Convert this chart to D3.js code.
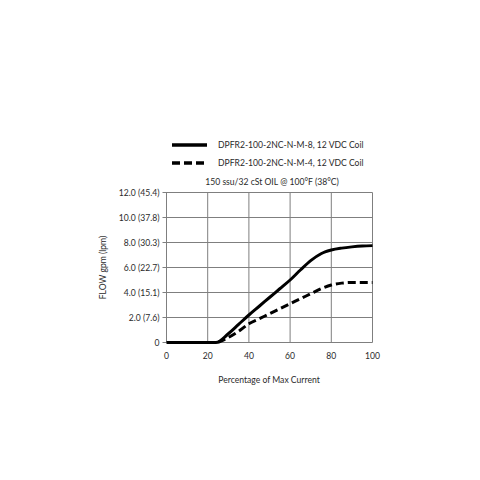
<!DOCTYPE html>
<html>
<head>
<meta charset="utf-8">
<script src="https://cdn.jsdelivr.net/npm/d3@7"></script>
<style>
  body { margin: 0; background: #fff; }
  text { font-family: Lato, "Open Sans", sans-serif; fill: #2a2a2a; }
</style>
</head>
<body>
<div id="chart"></div>
<script>
// percentage of max current vs flow (gpm)
let xTicks = [0, 20, 40, 60, 80, 100];
let yTicks = [0, 2, 4, 6, 8, 10, 12];
let yTickLabels = ["0", "2.0 (7.6)", "4.0 (15.1)", "6.0 (22.7)", "8.0 (30.3)", "10.0 (37.8)", "12.0 (45.4)"];

let seriesNames = ["DPFR2-100-2NC-N-M-8, 12 VDC Coil", "DPFR2-100-2NC-N-M-4, 12 VDC Coil"];
let m8Current = [0, 10, 20, 24, 30, 35, 40, 45, 50, 55, 60, 65, 70, 75, 77, 80, 85, 90, 95, 100];
let m8Flow    = [0, 0, 0, 0, 0.7, 1.45, 2.2, 2.9, 3.6, 4.3, 5.0, 5.8, 6.55, 7.1, 7.25, 7.4, 7.55, 7.65, 7.72, 7.75];
let m4Current = [25, 30, 35, 40, 45, 50, 55, 60, 65, 70, 75, 80, 85, 90, 95, 100];
let m4Flow    = [0, 0.4, 0.9, 1.5, 1.9, 2.3, 2.7, 3.1, 3.5, 3.9, 4.3, 4.6, 4.75, 4.8, 4.8, 4.8];

let subtitle = "150 ssu/32 cSt OIL @ 100°F (38°C)";
let xLabel = "Percentage of Max Current";
let yLabel = "FLOW gpm (lpm)";

let width = 480, height = 480;
let plotLeft = 166.5, plotRight = 372.5, plotTop = 192.5, plotBottom = 342.5;
let fontSize = 8.6;

let svg = d3.select("#chart").append("svg")
    .attr("width", width)
    .attr("height", height);

let x = d3.scaleLinear().domain([0, 100]).range([plotLeft, plotRight]);
let y = d3.scaleLinear().domain([0, 12]).range([plotBottom, plotTop]);

// grid
svg.append("g").selectAll("line").data(xTicks).join("line")
    .attr("x1", d => x(d)).attr("x2", d => x(d))
    .attr("y1", plotTop).attr("y2", plotBottom)
    .attr("stroke", "#7f7f7f").attr("stroke-width", 1);
svg.append("g").selectAll("line").data(yTicks).join("line")
    .attr("x1", plotLeft - 4).attr("x2", plotRight)
    .attr("y1", d => y(d)).attr("y2", d => y(d))
    .attr("stroke", "#7f7f7f").attr("stroke-width", 1);

// y axis labels
svg.append("g").selectAll("text").data(yTicks).join("text")
    .attr("x", plotLeft - 7)
    .attr("y", d => y(d) + 3)
    .attr("text-anchor", "end")
    .attr("font-size", fontSize)
    .text((d, i) => yTickLabels[i]);

// x axis labels
svg.append("g").selectAll("text").data(xTicks).join("text")
    .attr("x", d => x(d))
    .attr("y", plotBottom + 16)
    .attr("text-anchor", "middle")
    .attr("font-size", fontSize)
    .text(d => d);

// curves
let line = d3.line()
    .x(d => x(d[0]))
    .y(d => y(d[1]))
    .curve(d3.curveMonotoneX);

svg.append("path")
    .datum(m8Current.map((c, i) => [c, m8Flow[i]]))
    .attr("d", line)
    .attr("fill", "none")
    .attr("stroke", "#000")
    .attr("stroke-width", 3);

svg.append("path")
    .datum(m4Current.map((c, i) => [c, m4Flow[i]]))
    .attr("d", line)
    .attr("fill", "none")
    .attr("stroke", "#000")
    .attr("stroke-width", 3)
    .attr("stroke-dasharray", "8,4");

// legend
let legend = svg.append("g");
[0, 1].forEach(i => {
    let ly = 145 + i * 18;
    legend.append("line")
        .attr("x1", 172).attr("x2", 207)
        .attr("y1", ly).attr("y2", ly)
        .attr("stroke", "#000")
        .attr("stroke-width", 3.5)
        .attr("stroke-dasharray", i == 1 ? "8,4" : null);
    legend.append("text")
        .attr("x", 218).attr("y", ly + 3)
        .attr("font-size", fontSize)
        .text(seriesNames[i]);
});

svg.append("text")
    .attr("x", 272).attr("y", 185)
    .attr("text-anchor", "middle")
    .attr("font-size", fontSize)
    .text(subtitle);

svg.append("text")
    .attr("x", 269).attr("y", 383)
    .attr("text-anchor", "middle")
    .attr("font-size", fontSize)
    .text(xLabel);

svg.append("text")
    .attr("transform", "translate(106," + ((plotTop + plotBottom) / 2) + ") rotate(-90)")
    .attr("text-anchor", "middle")
    .attr("font-size", fontSize)
    .text(yLabel);
</script>
</body>
</html>
